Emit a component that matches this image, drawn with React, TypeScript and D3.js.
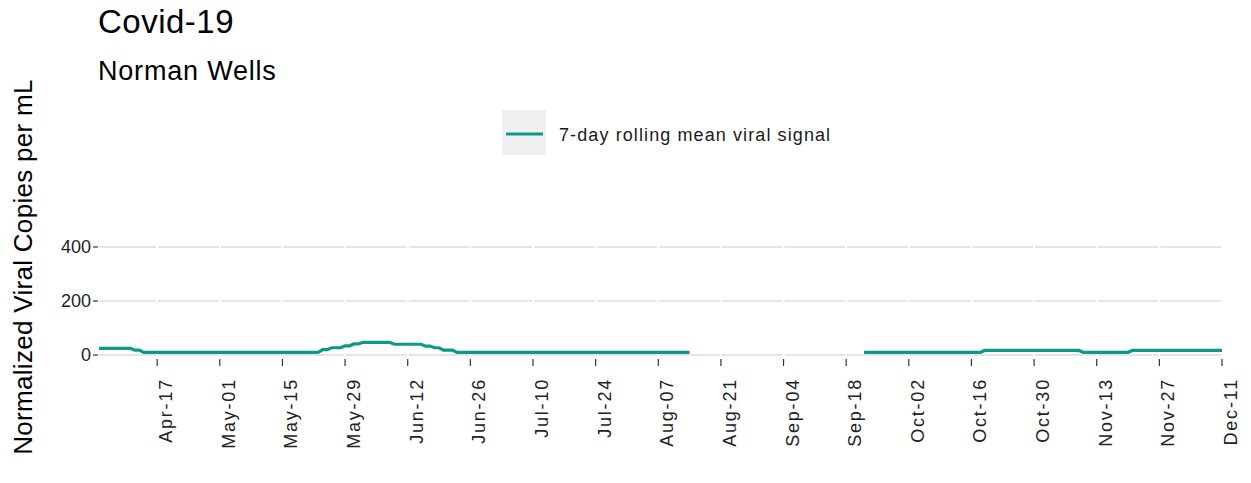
import React, { useEffect, useRef } from 'react';
import * as d3 from 'd3';

// 7-day rolling mean (level start date -> value)
const seg1Dates = ['2022-04-04', '2022-04-12', '2022-04-14', '2022-05-24', '2022-05-26', '2022-05-29',
  '2022-05-31', '2022-06-02', '2022-06-09', '2022-06-16', '2022-06-18', '2022-06-20', '2022-06-23'];
const seg1Values = [25, 18, 10, 20, 27, 34, 41, 47, 40, 33, 27, 18, 10];
const seg1End = '2022-08-14';

const seg2Dates = ['2022-09-22', '2022-10-19', '2022-11-10', '2022-11-21'];
const seg2Values = [10, 17, 10, 17];
const seg2End = '2022-12-11';

const yTicks = [0, 200, 400];
const xTickStart = '2022-04-17';
const xTickEnd = '2022-12-11';

const title = 'Covid-19';
const subtitle = 'Norman Wells';
const yTitle = 'Normalized Viral Copies per mL';
const legendLabel = '7-day rolling mean viral signal';

const W = 1251, H = 483;
const LINE = '#0b9a8a';
const font = 'Arial, "Liberation Sans", sans-serif';

const parse = d3.timeParse('%Y-%m-%d');

function buildSegment(dates: string[], values: number[], end: string) {
  // each level holds until the day before the next level starts
  const pts: [Date, number][] = [];
  dates.forEach((d, i) => {
    const start = parse(d) as Date;
    const stop = i < dates.length - 1 ? d3.timeDay.offset(parse(dates[i + 1]) as Date, -1) : (parse(end) as Date);
    pts.push([start, values[i]]);
    pts.push([stop, values[i]]);
  });
  return pts;
}

export default function App() {
  const ref = useRef<SVGSVGElement>(null);

  useEffect(() => {
    const svg = d3.select(ref.current);
    svg.selectAll('*').remove();

    const left = 99, right = 1222, top = 190, bottom = 358;

    const x = d3.scaleTime()
      .domain([parse('2022-04-04') as Date, parse('2022-12-11') as Date])
      .range([left, right]);
    const y = d3.scaleLinear().domain([-11, 611]).range([bottom, top]);

    // breaks every 14 days from the first labelled date
    const ticks: Date[] = [];
    for (let d = parse(xTickStart) as Date; d <= (parse(xTickEnd) as Date); d = d3.timeDay.offset(d, 14)) ticks.push(d);

    const fmt = d3.timeFormat('%b-%d');

    // titles
    svg.append('text').attr('x', 98).attr('y', 33).attr('font-size', 33).attr('fill', '#000')
      .attr('font-family', font).attr('letter-spacing', 0.5).text(title);
    svg.append('text').attr('x', 98).attr('y', 80).attr('font-size', 27).attr('fill', '#000')
      .attr('font-family', font).attr('letter-spacing', 0.8).text(subtitle);

    // legend
    svg.append('rect').attr('x', 502).attr('y', 110).attr('width', 44).attr('height', 45).attr('fill', '#f0f0f0');
    svg.append('line').attr('x1', 506).attr('x2', 543).attr('y1', 134).attr('y2', 134)
      .attr('stroke', LINE).attr('stroke-width', 3);
    svg.append('text').attr('x', 559).attr('y', 141).attr('font-size', 18).attr('fill', '#1a1a1a')
      .attr('font-family', font).attr('letter-spacing', 1.1).text(legendLabel);

    // grid
    const g = svg.append('g');
    g.selectAll('.hgrid').data(yTicks).enter().append('line')
      .attr('x1', left).attr('x2', right)
      .attr('y1', (d) => y(d)).attr('y2', (d) => y(d))
      .attr('stroke', '#dcdcdc').attr('stroke-width', 1.4);
    g.selectAll('.vgrid').data(ticks).enter().append('line')
      .attr('x1', (d) => x(d)).attr('x2', (d) => x(d))
      .attr('y1', top).attr('y2', bottom)
      .attr('stroke', '#fff').attr('stroke-width', 2);

    // y axis
    g.selectAll('.ytick').data(yTicks).enter().append('line')
      .attr('x1', 93).attr('x2', 98)
      .attr('y1', (d) => y(d)).attr('y2', (d) => y(d))
      .attr('stroke', '#333').attr('stroke-width', 1.2);
    g.selectAll('.ylab').data(yTicks).enter().append('text')
      .attr('x', 91).attr('y', (d) => y(d) + 6)
      .attr('text-anchor', 'end').attr('font-size', 18).attr('fill', '#222')
      .attr('font-family', font).text((d) => d3.format('d')(d));

    // x axis
    g.selectAll('.xtick').data(ticks).enter().append('line')
      .attr('x1', (d) => x(d)).attr('x2', (d) => x(d))
      .attr('y1', 359).attr('y2', 366)
      .attr('stroke', '#333').attr('stroke-width', 1.2);
    g.selectAll('.xlab').data(ticks).enter().append('text')
      .attr('transform', (d) => `translate(${x(d) + 15},378) rotate(-90)`)
      .attr('text-anchor', 'end').attr('font-size', 18).attr('fill', '#222')
      .attr('font-family', font).attr('letter-spacing', 1.8).text((d) => fmt(d));

    // y title
    svg.append('text').attr('transform', 'translate(32,267) rotate(-90)')
      .attr('text-anchor', 'middle').attr('font-size', 26).attr('fill', '#000')
      .attr('font-family', font).attr('letter-spacing', 0.3).text(yTitle);

    // series
    const line = d3.line<[Date, number]>()
      .x((d) => x(d[0]))
      .y((d) => y(d[1]));
    [buildSegment(seg1Dates, seg1Values, seg1End), buildSegment(seg2Dates, seg2Values, seg2End)].forEach((pts) => {
      svg.append('path').datum(pts)
        .attr('d', line)
        .attr('fill', 'none')
        .attr('stroke', LINE)
        .attr('stroke-width', 3.2);
    });
  }, []);

  return (
    <svg ref={ref} width={W} height={H} style={{ position: 'absolute', left: 0, top: 0, background: '#fff' }} />
  );
}
